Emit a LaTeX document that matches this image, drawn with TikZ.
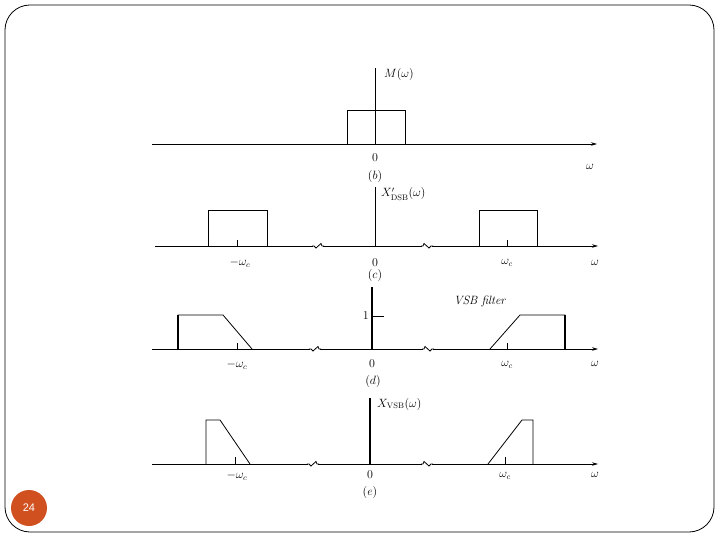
\documentclass[tikz,border=0pt]{standalone}
\usepackage{amsmath}
\usepackage{fontspec}
\newfontfamily\slidefont{Liberation Sans}
\usetikzlibrary{arrows.meta}
\definecolor{pgnum}{RGB}{208,80,32}

\begin{document}
\begin{tikzpicture}[x=1pt,y=-1pt,>={Stealth[length=6pt,width=3.5pt]},every node/.style={font=\fontsize{12}{14}\selectfont,inner sep=1pt},axis/.style={->,line width=.8pt},band/.style={line width=.8pt},edge/.style={line width=1.6pt},brkl/.pic={\fill[white] (-5,-4) rectangle (5,4);\draw[line width=.8pt] (-6,0)--(-4,0)--(-2,2)--(3,-2.5)--(4,0)--(6,0);},brkr/.pic={\fill[white] (-5,-4) rectangle (5,4);\draw[line width=.8pt] (-6,0)--(-4,0)--(-3,-2.5)--(2,2)--(4,0)--(6,0);}]
\useasboundingbox (0,0) rectangle (720,540);
\draw[line width=.8pt,rounded corners=25pt] (5,5) rectangle (714,532);
\node[circle,fill=pgnum,minimum size=36pt,text=white,font=\slidefont\fontsize{11}{13}\selectfont] (page) at (29,508) {24};
% (b) message spectrum
\draw[axis] (152,144) -- (597,144);
\draw (375,144) -- (375,68);
\draw[band] (347,144) |- (405,110) -- (405,144);
\node[anchor=west] (Mlbl) at (383,75) {$M(\omega)$};
\node (b0) at (375,158) {$0$};
\node (bw) at (590,167) {$\omega$};
\node (bcap) at (375,177) {$(b)$};
% (c) DSB spectrum
\draw[axis] (155,246) -- (598,246);
\draw (375,246) -- (375,187);
\draw[band] (208,246) |- (267,210) -- (267,246);
\draw[band] (479,246) |- (537,210) -- (537,246);
\draw (237,246) -- (237,240);\draw (507,246) -- (507,240);
\pic at (318,246) {brkl};\pic at (427,246) {brkr};
\node[anchor=west] (Xdsb) at (380,194) {$X'_{\mathrm{DSB}}(\omega)$};
\node (cmw) at (240,263) {$-\omega_c$};
\node (c0) at (375,263) {$0$};
\node (cw) at (507,263) {$\omega_c$};
\node (cx) at (595,263) {$\omega$};
\node (ccap) at (375,275) {$(c)$};
% (d) VSB filter
\draw[axis] (152,349) -- (598,349);
\draw[edge] (372,349) -- (372,287);
\draw (372,316) -- (384,316);
\node[anchor=east] (one) at (370,316) {$1$};
\draw[band] (178,349) -- (178,315) -- (223,315) -- (252,349);
\draw[edge] (178,349) -- (178,315);
\draw[band] (490,349) -- (520,315) -- (565,315) -- (565,349);
\draw[edge] (565,349) -- (565,315);
\draw (237,349) -- (237,343);\draw (507,349) -- (507,343);
\pic at (315,349) {brkl};\pic at (428,349) {brkr};
\node (flt) at (480,301) {\textit{VSB filter}};
\node (dmw) at (237,365) {$-\omega_c$};
\node (d0) at (372,364) {$0$};
\node (dw) at (507,365) {$\omega_c$};
\node (dx) at (595,364) {$\omega$};
\node (dcap) at (373,381) {$(d)$};
% (e) VSB spectrum
\draw[axis] (152,464) -- (598,464);
\draw[edge] (370,464) -- (370,398);
\draw[band] (206,464) -- (206,420) -- (220,420) -- (250,464);
\draw[band] (488,464) -- (522,420) -- (533,420) -- (533,464);
\draw (235,464) -- (235,457);\draw (505,464) -- (505,457);
\pic at (313,464) {brkl};\pic at (427,464) {brkr};
\node[anchor=west] (Xvsb) at (376,404) {$X_{\mathrm{VSB}}(\omega)$};
\node (emw) at (237,476) {$-\omega_c$};
\node (e0) at (370,475) {$0$};
\node (ew) at (505,476) {$\omega_c$};
\node (ex) at (595,475) {$\omega$};
\node (ecap) at (370,492) {$(e)$};
\end{tikzpicture}
\end{document}
